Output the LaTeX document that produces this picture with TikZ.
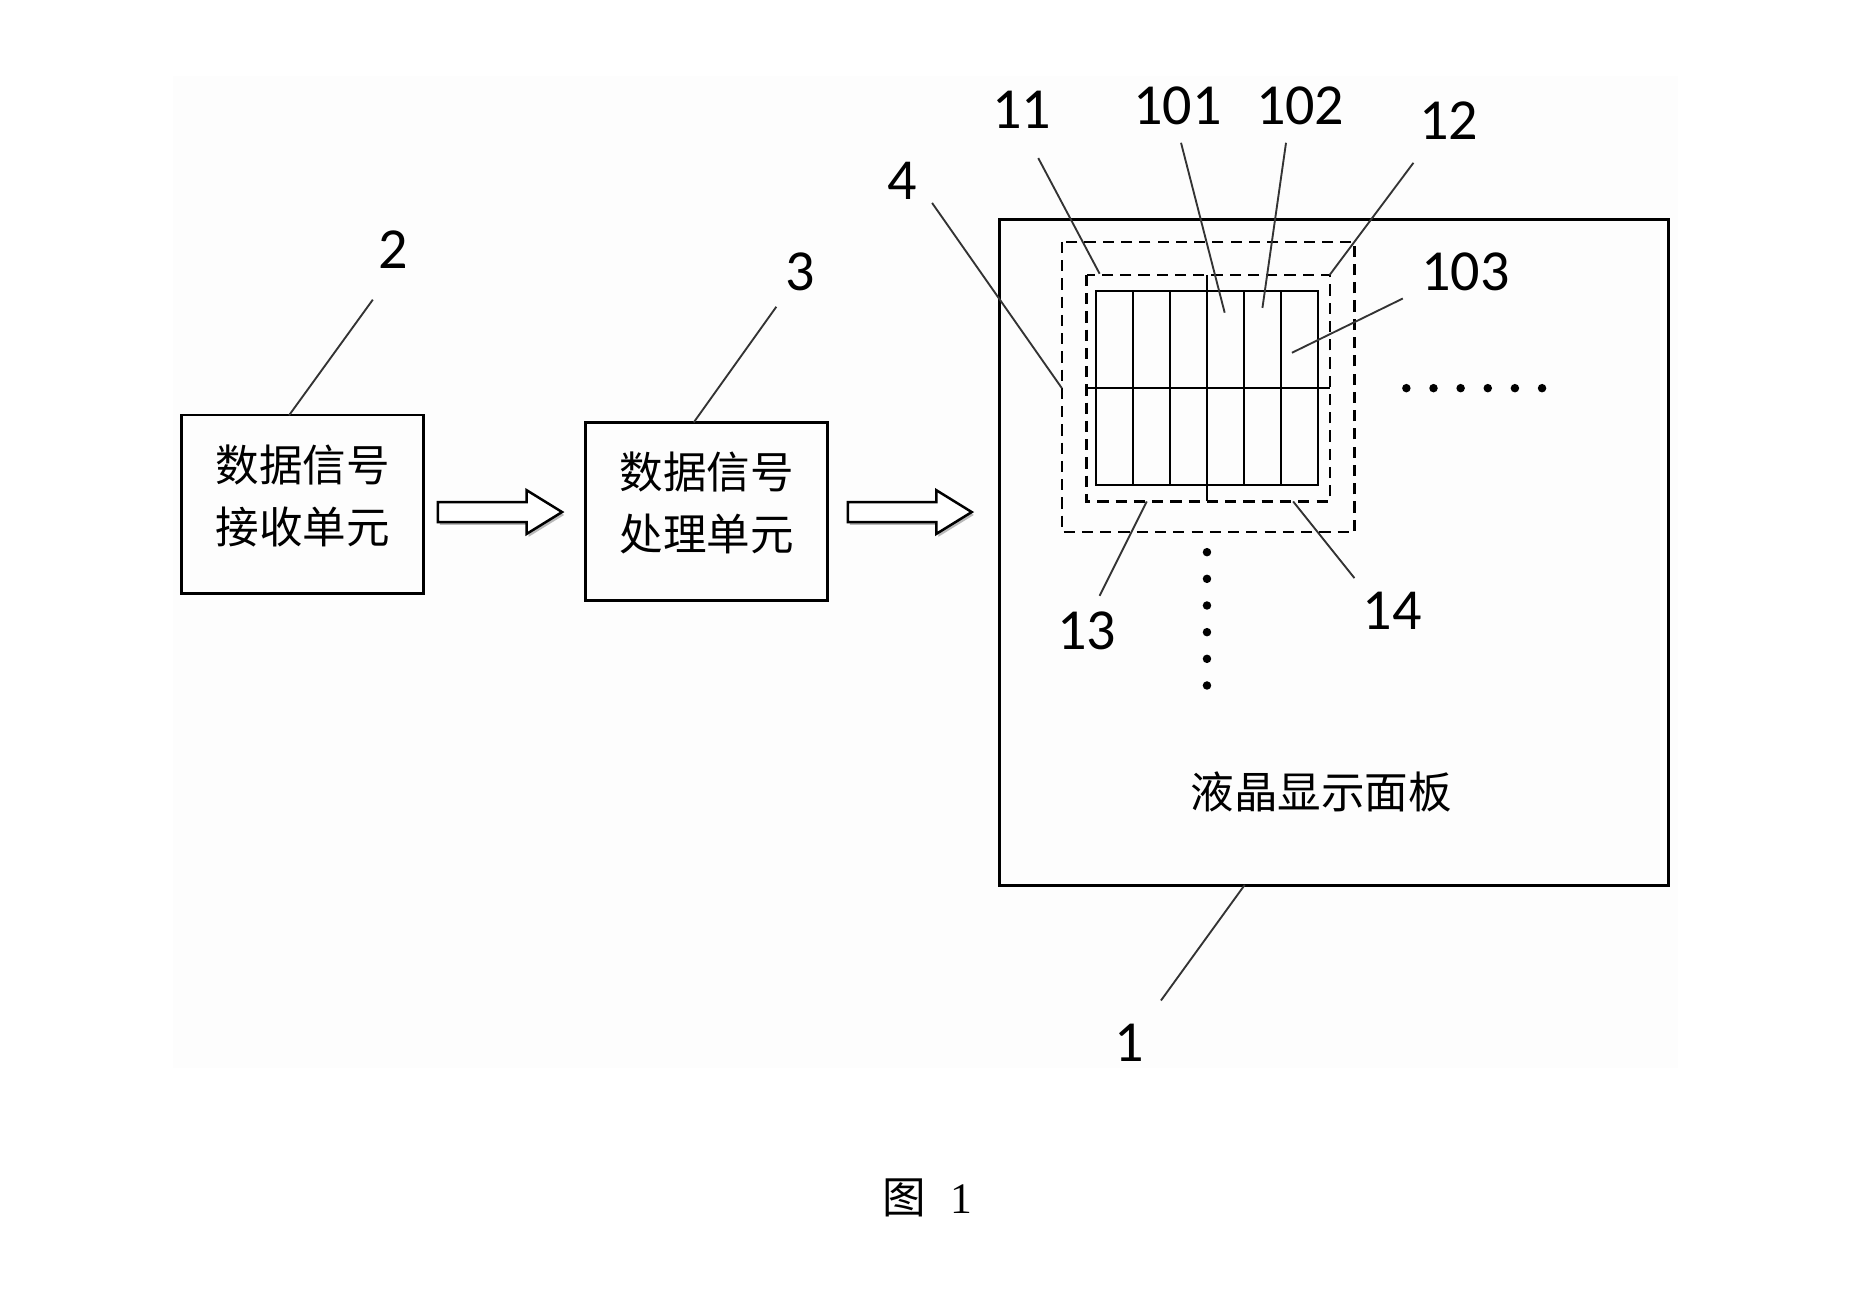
\documentclass[tikz,border=0pt]{standalone}
\usepackage{fontspec}
\setmainfont{Liberation Serif}
\newfontfamily\cjk{Noto Sans CJK SC}
\newfontfamily\digits{Carlito}
\usetikzlibrary{calc,shadows}

\begin{document}
\begin{tikzpicture}[x=0.01cm, y=-0.01cm]
	\newcommand{\cw}{31.33}
	\newcommand{\hollowarrow}[2]{%
		\draw[blockarrow] ($(#1)+(0,-8.5)$) -- ($(#2)+(-30,-8.5)$) -- ($(#2)+(-30,-18.5)$) -- (#2)
			-- ($(#2)+(-30,18.5)$) -- ($(#2)+(-30,8.5)$) -- ($(#1)+(0,8.5)$) -- cycle;}
	\tikzstyle{unit}=[draw, line width=0.6pt, minimum width=2.05cm, minimum height=1.51cm, inner sep=0, align=center, text depth=4.8pt, font=\cjk\fontsize{10.5pt}{15pt}\selectfont]
	\tikzstyle{num}=[inner sep=0, font=\digits\fontsize{14pt}{16pt}\selectfont]
	\tikzstyle{leader}=[line width=0.45pt, black!80]
	\tikzstyle{zone}=[line width=0.55pt, dash pattern=on 2.7pt off 1.7pt]
	\tikzstyle{cell}=[line width=0.55pt]
	\tikzstyle{blockarrow}=[draw, fill=white, line width=0.6pt, drop shadow={shadow xshift=0.5pt, shadow yshift=-0.7pt, fill=black!45, opacity=0.6}]
	\useasboundingbox (0,0) rectangle (1568,1094);
	\fill[black!0.8] (147,64) rectangle (1422,905);
	\node[unit] (recv) at (256.5,427.5) {数据信号\\接收单元};
	\node[unit] (proc) at (599,433.5) {数据信号\\处理单元};
	\node[draw, line width=0.7pt, minimum width=5.67cm, minimum height=5.64cm, inner sep=0] (panel) at (1130.5,468) {};
	\coordinate (a1) at ($(recv.east)+(11,6.5)$);
	\coordinate (a1tip) at ($(proc.west)+(-19,0.5)$);
	\coordinate (a2) at ($(proc.east)+(16,0.5)$);
	\coordinate (a2tip) at ($(panel.west)+(-22,-34)$);
	\hollowarrow{a1}{a1tip}
	\hollowarrow{a2}{a2tip}
	% pixel zones and grid
	\draw[zone] (900,205) rectangle (1148,451);
	\draw[zone] (921,233) rectangle (1127,425);
	\draw[cell] (929,246.6) rectangle (1117,411);
	\foreach \i in {1,...,5} \draw[cell] (929+\i*\cw,246.6) -- (929+\i*\cw,411);
	\draw[cell] (921,329) -- (1127,329);
	\draw[cell] (1023,233) -- (1023,425);
	\foreach \k in {0,...,5}
		{\fill (1192+\k*23,329) circle (0.036cm);
		 \fill (1023,468+\k*22.6) circle (0.036cm); }
	\node[font=\cjk\fontsize{10.5pt}{12pt}\selectfont] (lcd) at (1120,671) {液晶显示面板};
	\node[font=\fontsize{10.5pt}{12pt}\selectfont] (fig) at (786,1015) {{\cjk 图}\hspace{0.2cm}1};
	\foreach \t/\p/\s/\e in {2/{333,212}/{316,254}/{245,352}, 3/{678,230}/{658,260}/{588,358},
		4/{765,153}/{790,172}/{900,329}, 11/{866,93}/{880,134}/{932,232},
		101/{998,90}/{1001,121}/{1038,265}, 102/{1102,90}/{1090,121}/{1070,261},
		12/{1228,102}/{1198,138}/{1127,233}, 103/{1242,230}/{1189,253}/{1095,299},
		13/{921,535}/{932,505}/{972,425}, 14/{1180,518}/{1148,490}/{1096,425},
		1/{957,884}/{984,848}/{1055,750}}
		{\node[num] (n\t) at (\p) {\t};
		 \coordinate (s\t) at (\s);
		 \coordinate (e\t) at (\e);
		 \draw[leader] (s\t) -- (e\t); }
\end{tikzpicture}
\end{document}
